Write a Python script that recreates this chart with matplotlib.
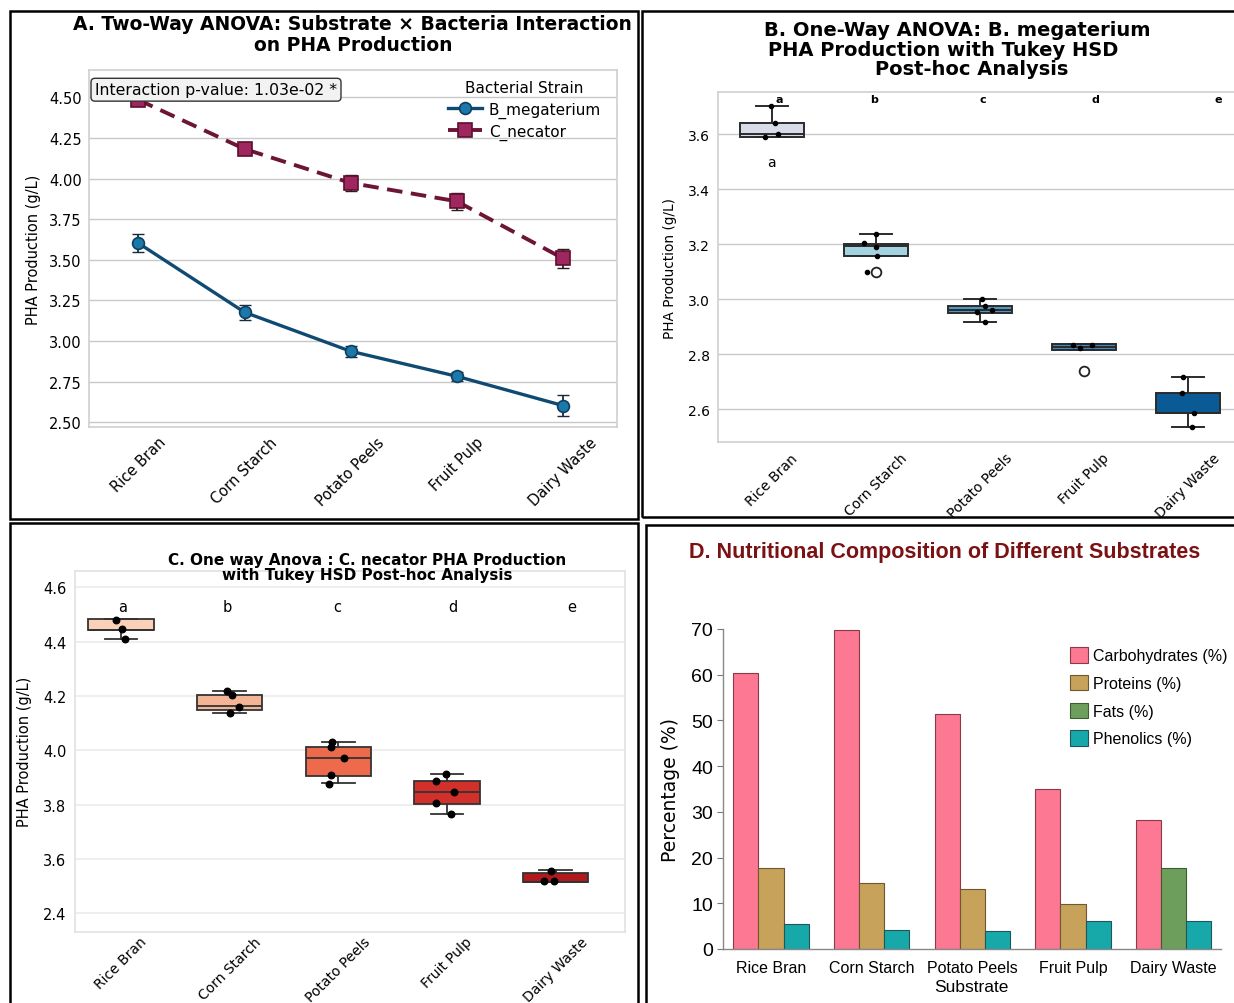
import numpy as np
import matplotlib
matplotlib.use("Agg")
import matplotlib.pyplot as plt
from matplotlib.patches import Rectangle

# ---- data ----
substrates = ["Rice Bran", "Corn Starch", "Potato Peels", "Fruit Pulp", "Dairy Waste"]

# A: two-way ANOVA means and error
bm_mean = [3.602, 3.177, 2.937, 2.783, 2.603]
bm_err = [0.055, 0.046, 0.033, 0.029, 0.064]
cn_mean = [4.484, 4.182, 3.973, 3.860, 3.509]
cn_err = [0.02, 0.02, 0.051, 0.051, 0.057]

# B: B. megaterium box stats + replicates
b_q1 = [3.589, 3.156, 2.950, 2.816, 2.587]
b_med = [3.600, 3.195, 2.962, 2.826, 2.587]
b_q3 = [3.641, 3.201, 2.975, 2.836, 2.659]
b_lo = [3.589, 3.156, 2.916, 2.816, 2.533]
b_hi = [3.702, 3.237, 3.000, 2.836, 2.717]
b_fliers = [[], [3.098], [], [2.737], []]
b_pts = [[3.702, 3.641, 3.600, 3.590],
         [3.237, 3.203, 3.189, 3.156, 3.098],
         [2.999, 2.974, 2.962, 2.952, 2.917],
         [2.834, 2.834, 2.821],
         [2.717, 2.659, 2.587, 2.533]]
b_jit = [[-0.006, 0.03, 0.06, -0.067],
         [0.0, -0.11, 0.0, 0.01, -0.09],
         [0.02, 0.05, 0.115, -0.03, 0.05],
         [-0.1, 0.08, -0.035],
         [-0.05, -0.06, 0.06, 0.04]]
b_letters = ["a", "b", "c", "d", "e"]
b_colors = ["#d8dce9", "#a3d3e1", "#4f97c3", "#3b8ac0", "#0a5b95"]
b_title = ["B. One-Way ANOVA: B. megaterium", "PHA Production with Tukey HSD", "Post-hoc Analysis"]

# C: C. necator box stats + replicates
c_q1 = [4.444, 4.150, 3.907, 3.802, 3.514]
c_med = [4.444, 4.162, 3.972, 3.848, 3.514]
c_q3 = [4.483, 4.205, 4.012, 3.886, 3.548]
c_lo = [4.410, 4.136, 3.879, 3.767, 3.514]
c_hi = [4.483, 4.217, 4.029, 3.912, 3.559]
c_pts = [[4.481, 4.447, 4.410],
         [4.217, 4.205, 4.158, 4.136],
         [4.029, 4.011, 3.972, 3.908, 3.876],
         [3.912, 3.885, 3.848, 3.805, 3.767],
         [3.556, 3.518, 3.518]]
c_jit = [[-0.045, 0.012, 0.038],
         [-0.023, 0.022, 0.082, 0.0],
         [-0.057, -0.069, 0.055, -0.069, -0.087],
         [-0.01, -0.105, 0.064, -0.105, 0.037],
         [-0.045, -0.108, -0.018]]
c_letters = ["a", "b", "c", "d", "e"]
c_colors = ["#fbd0b9", "#f4b597", "#ee6a4c", "#d3302c", "#b0191e"]
c_ticks = [4.6, 4.4, 4.2, 4.0, 3.8, 3.6, 3.4]
c_ticklabels = ["4.6", "4.4", "4.2", "4.0", "3.8", "3.6", "2.4"]

# D: nutritional composition
carbs = [60.4, 69.8, 51.3, 35.0, 28.2]
proteins = [17.8, 14.4, 13.2, 9.9, None]
fats = [None, None, None, None, 17.8]
phenolics = [5.4, 4.2, 3.9, 6.2, 6.2]

W, H = 1234, 1004
fig = plt.figure(figsize=(W / 100, H / 100), dpi=100)
fig.patch.set_facecolor("white")

def fx(px):
    return px / W

def fy(py):
    return 1 - py / H

# panel borders
for (x0, y0, x1, y1) in [(10, 12, 638, 520), (642, 12, 1240, 518),
                         (10, 524, 638, 1010), (646, 526, 1240, 1010)]:
    fig.patches.append(Rectangle((fx(x0), fy(y1)), fx(x1) - fx(x0), fy(y0) - fy(y1),
                                 transform=fig.transFigure, fill=False,
                                 edgecolor="black", linewidth=1.8))

grid_col = "#c8c8c8"
x = np.arange(len(substrates))

# ---------------- Panel A ----------------
axA = fig.add_axes([fx(88.6), fy(428.3), fx(617) - fx(88.6), fy(70.7) - fy(428.3)])
axA.errorbar(x, bm_mean, yerr=bm_err, fmt="none", capsize=4, ecolor="#1a2a3a",
             elinewidth=1.3, zorder=2)
axA.errorbar(x, cn_mean, yerr=cn_err, fmt="none", capsize=4, ecolor="#2a1a22",
             elinewidth=1.3, zorder=2)
axA.plot(x, bm_mean, color="#0f4a72", lw=2.4, marker="o", ms=8.5,
         mfc="#1b78ab", mec="#0f3f60", mew=1.2, label="B_megaterium", zorder=3)
axA.plot(x, cn_mean, color="#6d1536", lw=2.8, ls=(0, (4, 2.2)), marker="s",
         ms=9.5, mfc="#a02660", mec="#5c102b", mew=1.2, label="C_necator", zorder=3)
axA.set_xlim(-0.47, 4.51)
axA.set_ylim(2.469, 4.67)
axA.set_yticks([2.50, 2.75, 3.00, 3.25, 3.50, 3.75, 4.00, 4.25, 4.50])
axA.set_yticklabels(["2.50", "2.75", "3.00", "3.25", "3.50", "3.75", "4.00", "4.25", "4.50"])
axA.set_xticks(x)
axA.set_xticklabels(substrates, rotation=45)
axA.tick_params(length=0, labelsize=10.5, pad=5)
axA.grid(axis="y", color=grid_col, lw=1.0)
axA.set_axisbelow(True)
for s in axA.spines.values():
    s.set_color("#cfcfcf")
    s.set_linewidth(1.2)
axA.set_ylabel("PHA Production (g/L)", fontsize=10.5, labelpad=6)
axA.set_title("A. Two-Way ANOVA: Substrate \u00d7 Bacteria Interaction\non PHA Production",
              fontsize=13.5, fontweight="bold", pad=14, linespacing=1.15)
axA.text(0.012, 0.965, "Interaction p-value: 1.03e-02 *", transform=axA.transAxes,
         fontsize=11.3, va="top", ha="left",
         bbox=dict(boxstyle="round,pad=0.25", fc="#f2f2f2", ec="#333333", lw=1.0))
legA = axA.legend(title="Bacterial Strain", loc="upper right", frameon=False,
                  fontsize=11, title_fontsize=11, bbox_to_anchor=(0.99, 1.0),
                  handlelength=2.2, handletextpad=0.45, borderaxespad=0.3,
                  labelspacing=0.4)

# ---------------- Panel B ----------------
axB = fig.add_axes([fx(718.4), fy(443.3), fx(1242) - fx(718.4), fy(93.3) - fy(443.3)])
statsB = []
for i in range(len(substrates)):
    statsB.append(dict(q1=b_q1[i], med=b_med[i], q3=b_q3[i], whislo=b_lo[i],
                       whishi=b_hi[i], fliers=b_fliers[i]))
bpB = axB.bxp(statsB, positions=x, widths=0.62, patch_artist=True, manage_ticks=False,
              boxprops=dict(edgecolor="#2b2b2b", lw=1.4),
              medianprops=dict(color="#2b2b2b", lw=1.4),
              whiskerprops=dict(color="#2b2b2b", lw=1.4),
              capprops=dict(color="#2b2b2b", lw=1.4),
              flierprops=dict(marker="o", mfc="white", mec="#222222", ms=7, mew=1.3))
for patch, col in zip(bpB["boxes"], b_colors):
    patch.set_facecolor(col)
for i in range(len(substrates)):
    axB.scatter(i + np.array(b_jit[i]), b_pts[i], s=9, color="black", zorder=4)
for i, let in enumerate(b_letters):
    axB.text(i + [0.07, -0.02, 0.03, 0.115, 0.29][i], 3.728, let, ha="center", va="center",
             fontsize=8, fontweight="bold")
axB.text(0.0, 3.50, "a", ha="center", va="center", fontsize=10)
axB.set_xlim(-0.514, 4.52)
axB.set_ylim(2.479, 3.753)
axB.set_yticks([2.6, 2.8, 3.0, 3.2, 3.4, 3.6])
axB.set_xticks(x)
axB.set_xticklabels(substrates, rotation=45)
axB.tick_params(length=0, labelsize=10, pad=6)
axB.grid(axis="y", color=grid_col, lw=1.0)
axB.set_axisbelow(True)
for s in axB.spines.values():
    s.set_color("#cfcfcf")
    s.set_linewidth(1.2)
axB.set_ylabel("PHA Production (g/L)", fontsize=9.8, labelpad=8)
for line, cx, cy in zip(b_title, [957, 943, 972], [30, 50, 70]):
    fig.text(fx(cx), fy(cy), line, ha="center", va="center", fontsize=14, fontweight="bold")

# ---------------- Panel C ----------------
axC = fig.add_axes([fx(74.7), fy(932.7), fx(624.5) - fx(74.7), fy(572) - fy(932.7)])
statsC = []
for i in range(len(substrates)):
    statsC.append(dict(q1=c_q1[i], med=c_med[i], q3=c_q3[i], whislo=c_lo[i],
                       whishi=c_hi[i], fliers=[]))
bpC = axC.bxp(statsC, positions=x, widths=0.6, patch_artist=True, manage_ticks=False,
              boxprops=dict(edgecolor="#333333", lw=1.3),
              medianprops=dict(color="#333333", lw=1.3),
              whiskerprops=dict(color="#333333", lw=1.3),
              capprops=dict(color="#333333", lw=1.3))
for patch, col in zip(bpC["boxes"], c_colors):
    patch.set_facecolor(col)
for i in range(len(substrates)):
    axC.scatter(i + np.array(c_jit[i]), c_pts[i], s=22, color="black", zorder=4)
for i, let in enumerate(c_letters):
    axC.text(i + [0.017, -0.025, -0.012, 0.056, 0.152][i], 4.53, let, ha="center",
             va="center", fontsize=10.5)
axC.set_xlim(-0.427, 4.635)
axC.set_ylim(3.332, 4.66)
axC.set_yticks(c_ticks)
axC.set_yticklabels(c_ticklabels)
axC.set_xticks(x)
axC.set_xticklabels(substrates, rotation=45)
axC.tick_params(axis="y", length=0, labelsize=10.5, pad=6)
axC.tick_params(axis="x", length=0, labelsize=10, pad=2)
axC.grid(axis="y", color="#ebebeb", lw=1.2)
axC.set_axisbelow(True)
for s in axC.spines.values():
    s.set_color("#e2e2e2")
    s.set_linewidth(1.2)
axC.set_ylabel("PHA Production (g/L)", fontsize=10.5, labelpad=8)
fig.text(fx(367), fy(568), "C. One way Anova : C. necator PHA Production\nwith Tukey HSD Post-hoc Analysis",
         ha="center", va="center", fontsize=11, fontweight="bold", linespacing=0.95)

# ---------------- Panel D ----------------
dfont = ["Liberation Sans", "DejaVu Sans"]
axD = fig.add_axes([fx(722.6), fy(950), fx(1221) - fx(722.6), fy(630) - fy(950)])
bw = 0.25
axD.bar(x - bw, carbs, bw, color="#fd7892", edgecolor="#8a3a48", lw=0.8,
        label="Carbohydrates (%)")
pi = [i for i, v in enumerate(proteins) if v is not None]
axD.bar([x[i] for i in pi], [proteins[i] for i in pi], bw, color="#c7a25b",
        edgecolor="#6e5830", lw=0.8, label="Proteins (%)")
fi = [i for i, v in enumerate(fats) if v is not None]
axD.bar([x[i] for i in fi], [fats[i] for i in fi], bw, color="#6e9e5c",
        edgecolor="#3e5c32", lw=0.8, label="Fats (%)")
axD.bar(x + bw, phenolics, bw, color="#17a9aa", edgecolor="#22555a", lw=0.8,
        label="Phenolics (%)")
axD.set_xlim(-0.48, 4.47)
axD.set_ylim(0, 70)
axD.set_yticks(range(0, 71, 10))
axD.set_xticks(x)
axD.set_xticklabels(substrates, family=dfont, fontsize=11.5)
for lab in axD.get_yticklabels():
    lab.set_family(dfont)
    lab.set_fontsize(14)
axD.tick_params(axis="y", length=4, color="#777777", pad=3)
axD.tick_params(axis="x", length=0, pad=8)
for side in ["top", "right"]:
    axD.spines[side].set_visible(False)
for side in ["left", "bottom"]:
    axD.spines[side].set_color("#888888")
    axD.spines[side].set_linewidth(1.0)
axD.set_ylabel("Percentage (%)", fontsize=13.5, labelpad=8)
axD.set_xlabel("Substrate", fontsize=12.5, family=dfont, labelpad=3)
axD.legend(loc="upper left", bbox_to_anchor=(fx(1064), fy(642)),
           bbox_transform=fig.transFigure, frameon=False,
           prop=dict(family=dfont, size=11.5), handlelength=1.1, handleheight=1.1,
           handletextpad=0.3, labelspacing=0.72, borderaxespad=0)
fig.text(fx(945), fy(553), "D. Nutritional Composition of Different Substrates",
         ha="center", va="center", fontsize=15.5, fontweight="bold", color="#7a1214",
         family=dfont)

fig.savefig("out.png", dpi=100, facecolor="white")
